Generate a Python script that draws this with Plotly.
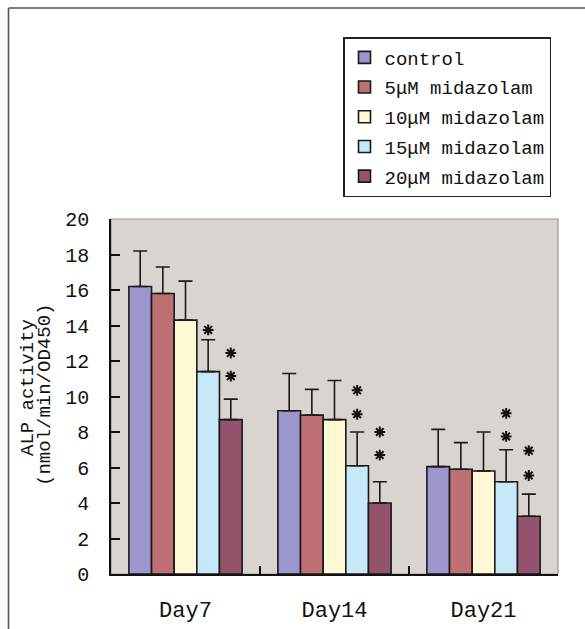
import plotly.graph_objects as go

days = ["Day7", "Day14", "Day21"]
series_names = ["control", "5\u03bcM midazolam", "10\u03bcM midazolam",
                "15\u03bcM midazolam", "20\u03bcM midazolam"]
colors = ["#9B96CB", "#BD7175", "#FFF9D5", "#C7E8F8", "#93536D"]

means = [
    [16.2, 9.2, 6.05],   # control
    [15.8, 8.95, 5.9],   # 5 uM
    [14.3, 8.7, 5.8],    # 10 uM
    [11.4, 6.1, 5.2],    # 15 uM
    [8.7, 4.0, 3.25],    # 20 uM
]
sd_upper = [
    [2.0, 2.1, 2.1],
    [1.5, 1.45, 1.5],
    [2.2, 2.2, 2.2],
    [1.8, 1.9, 1.8],
    [1.15, 1.2, 1.25],
]

# significance marks: (group index, series index, star y-values)
sig_marks = [
    (0, 3, [13.75]),
    (0, 4, [11.15, 12.45]),
    (1, 3, [9.0, 10.35]),
    (1, 4, [6.7, 8.0]),
    (2, 3, [7.75, 9.05]),
    (2, 4, [5.55, 6.95]),
]

yticks = [0, 2, 4, 6, 8, 10, 12, 14, 16, 18, 20]

FONT = "Liberation Mono"
bargap = 0.24
nser = len(series_names)
bar_w = (1 - bargap) / nser

fig = go.Figure()
for i, name in enumerate(series_names):
    fig.add_trace(go.Bar(
        x=list(range(len(days))), y=means[i], name=name,
        marker=dict(color=colors[i], line=dict(color="#1a1a1a", width=1.6)),
        error_y=dict(type="data", symmetric=False, array=sd_upper[i],
                     arrayminus=[0] * len(days), color="#1a1a1a",
                     thickness=1.6, width=7),
        legendgroup=f"g{i}",
    ))

# significance stars as asterisk markers
star_x, star_y = [], []
for g, s, ys in sig_marks:
    xpos = g + (s - (nser - 1) / 2) * bar_w
    for yv in ys:
        star_x.append(xpos)
        star_y.append(yv)
fig.add_trace(go.Scatter(
    x=star_x, y=star_y, mode="markers", showlegend=False, hoverinfo="skip",
    marker=dict(symbol="asterisk-open", size=9, color="#111",
                line=dict(color="#111", width=2)),
))

L, R, T, B = 111, 27, 219, 55
W, H = 585, 629
pw, ph = W - L - R, H - T - B

def px_x(p):
    return (p - L) / pw

def px_y(p):
    return 1 - (p - T) / ph

annotations = [
    dict(x=px_x(28), y=px_y(388), xref="paper", yref="paper", text="ALP activity",
         showarrow=False, textangle=-90, xanchor="center", yanchor="middle",
         font=dict(family=FONT, size=19, color="#111")),
    dict(x=px_x(45), y=px_y(395), xref="paper", yref="paper", text="(nmol/min/OD450)",
         showarrow=False, textangle=-90, xanchor="center", yanchor="middle",
         font=dict(family=FONT, size=19, color="#111")),
]

shapes = [
    dict(type="rect", xref="paper", yref="paper", x0=0, x1=1, y0=0, y1=1,
         line=dict(color="#9a9a9a", width=1.2), layer="below"),
    dict(type="line", xref="paper", yref="paper", x0=px_x(8.5), x1=px_x(8.5),
         y0=px_y(8), y1=px_y(640), line=dict(color="#555", width=1.6)),
    dict(type="line", xref="paper", yref="paper", x0=px_x(8.5), x1=px_x(600),
         y0=px_y(8), y1=px_y(8), line=dict(color="#555", width=1.6)),
]

fig.update_layout(
    width=W, height=H,
    margin=dict(l=L, r=R, t=T, b=B, autoexpand=False),
    paper_bgcolor="white",
    plot_bgcolor="#DAD4D1",
    barmode="group",
    bargap=bargap,
    bargroupgap=0,
    showlegend=True,
    legend=dict(x=px_x(343), y=px_y(37), xanchor="left", yanchor="top",
                bgcolor="white", bordercolor="#222", borderwidth=1.5,
                font=dict(family=FONT, size=19, color="#111"),
                tracegroupgap=2, traceorder="grouped",
                itemwidth=30),
    xaxis=dict(tickmode="array", tickvals=list(range(len(days))), ticktext=days,
               range=[-0.5, len(days) - 0.5],
               showline=True, linecolor="#111", linewidth=1.6,
               ticks="", showgrid=False, zeroline=False,
               tickfont=dict(family=FONT, size=22, color="#111"),
               ticklabelstandoff=15),
    xaxis2=dict(overlaying="x", matches="x", tickmode="array",
                tickvals=[k - 0.5 for k in range(len(days) + 1)],
                ticks="inside", ticklen=8, tickcolor="#111", tickwidth=1.6,
                showticklabels=False, showgrid=False, zeroline=False,
                anchor="y", side="bottom"),
    yaxis=dict(range=[0, 20], tickvals=yticks, showline=True, linecolor="#111",
               linewidth=1.6, ticks="inside", ticklen=9, tickcolor="#111",
               tickwidth=1.6, showgrid=False, zeroline=False,
               tickfont=dict(family=FONT, size=20, color="#111"),
               ticklabelstandoff=16),
    annotations=annotations,
    shapes=shapes,
)
# invisible trace to activate xaxis2 (category boundary ticks)
fig.add_trace(go.Scatter(x=[0], y=[0], xaxis="x2", mode="markers",
                         marker=dict(opacity=0), showlegend=False, hoverinfo="skip"))

fig.write_html("out.html", config={"displayModeBar": False},
               post_script="document.body.style.margin='0px';")
